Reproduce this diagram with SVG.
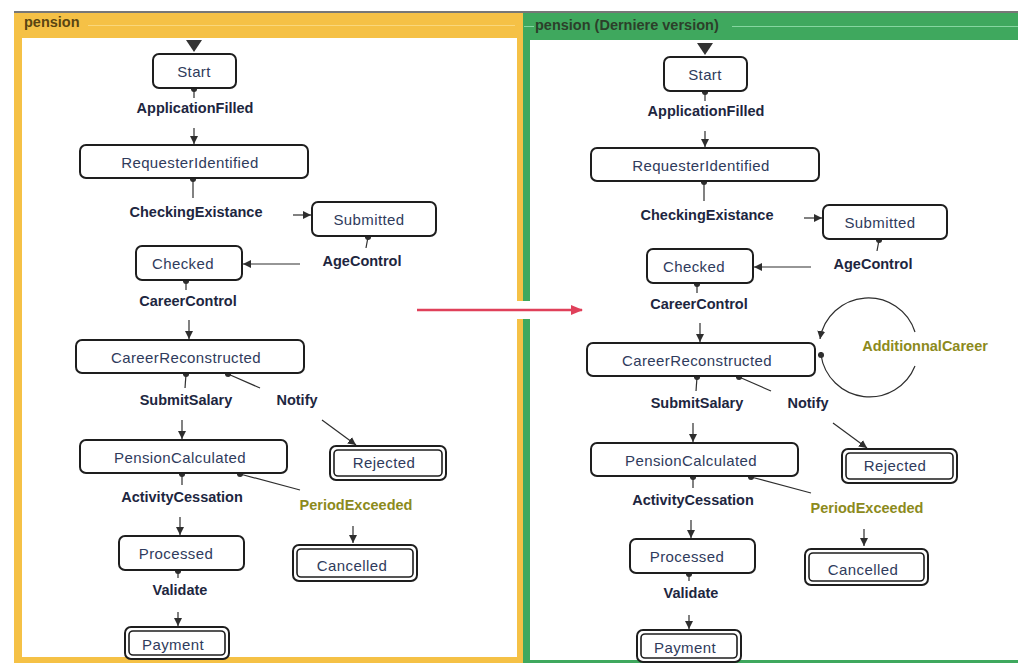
<svg xmlns="http://www.w3.org/2000/svg" width="1018" height="663" viewBox="0 0 1018 663">
  <style>
    .st { fill: #ffffff; stroke: #1e1e1e; stroke-width: 2; }
    .fin { fill: none; stroke: #1e1e1e; stroke-width: 1.6; }
    .nl { font-family: "Liberation Sans", Arial, sans-serif; font-size: 15px; letter-spacing: 0.4px; fill: #2f3b5c; text-anchor: middle; }
    .tl { font-family: "Liberation Sans", Arial, sans-serif; font-size: 14.5px; font-weight: bold; fill: #1d2640; text-anchor: middle; }
    .tlo { font-family: "Liberation Sans", Arial, sans-serif; font-size: 14.5px; font-weight: bold; fill: #8c8a1c; text-anchor: middle; }
    .hd { font-family: "Liberation Sans", Arial, sans-serif; font-size: 14.5px; font-weight: bold; }
    .e { fill: none; stroke: #2e2e2e; stroke-width: 1.2; }
    .ea { fill: none; stroke: #2e2e2e; stroke-width: 1.2; marker-end: url(#arr); }
    .ed { fill: none; stroke: #2e2e2e; stroke-width: 1.2; marker-start: url(#dot); }
  </style>
  <defs>
    <marker id="arr" viewBox="0 0 8 8" refX="8" refY="4" markerWidth="8" markerHeight="8" markerUnits="userSpaceOnUse" orient="auto">
      <path d="M0,0 L8,4 L0,8 z" fill="#2e2e2e"/>
    </marker>
    <marker id="dot" viewBox="0 0 8 8" refX="4" refY="4" markerWidth="7" markerHeight="7" markerUnits="userSpaceOnUse">
      <circle cx="4" cy="4" r="3.5" fill="#2e2e2e"/>
    </marker>
    <marker id="redarr" viewBox="0 0 12 10" refX="11" refY="5" markerWidth="12" markerHeight="10" markerUnits="userSpaceOnUse" orient="auto">
      <path d="M0,0 L12,5 L0,10 z" fill="#e0405a"/>
    </marker>
  </defs>

  <rect x="0" y="0" width="1018" height="663" fill="#ffffff"/>

  <!-- panel frames -->
  <g id="frame-left">
    <rect x="14" y="13" width="509" height="650" fill="#f5c146"/>
    <rect x="22" y="38" width="495" height="619" fill="#ffffff"/>
    <line x1="88" y1="25.5" x2="515" y2="25.5" stroke="#f9d77c" stroke-width="1"/>
    <text class="hd" x="24" y="27" fill="#5a4512">pension</text>
  </g>
  <g id="frame-right">
    <rect x="523" y="13" width="495" height="650" fill="#3fa85e"/>
    <rect x="530" y="40" width="488" height="620" fill="#ffffff"/>
    <line x1="524" y1="26.5" x2="534" y2="26.5" stroke="#86d6a0" stroke-width="1"/>
    <line x1="732" y1="26.5" x2="1018" y2="26.5" stroke="#86d6a0" stroke-width="1"/>
    <text class="hd" x="535" y="30" fill="#2c3f2a">pension (Derniere version)</text>
  </g>
  <line x1="14" y1="12" x2="1018" y2="12" stroke="#4a4a4a" stroke-width="1.5"/>

  <!-- connectors -->
  <g id="connectors">
    <!-- left panel -->
    <polygon points="186,40 202,40 194,52" fill="#333333"/>
    <path class="ed" d="M194,89 L194,98"/>
    <path class="ea" d="M194,128 L194,144"/>
    <path class="ed" d="M193,179 L193,198"/>
    <path class="ea" d="M293,215 L311,215"/>
    <path class="ed" d="M368,237 L366,248"/>
    <path class="ea" d="M300,264 L243,264"/>
    <path class="ed" d="M186,281 L186,290"/>
    <path class="ea" d="M189,320 L189,339"/>
    <path class="ed" d="M186,374 L185,388"/>
    <path class="ed" d="M228,374 L260,388"/>
    <path class="ea" d="M322,420 L356,445"/>
    <path class="ea" d="M182,420 L182,439"/>
    <path class="ed" d="M182,474 L182,485"/>
    <path class="ed" d="M240,474 L300,490"/>
    <path class="ea" d="M180,517 L180,535"/>
    <path class="ed" d="M178,571 L178,578"/>
    <path class="ea" d="M178,612 L178,626"/>
    <path class="ea" d="M353,526 L353,543"/>

    <!-- right panel -->
    <polygon points="697,43 713,43 705,55" fill="#333333"/>
    <path class="ed" d="M705,92 L705,101"/>
    <path class="ea" d="M705,131 L705,147"/>
    <path class="ed" d="M704,182 L704,201"/>
    <path class="ea" d="M804,218 L822,218"/>
    <path class="ed" d="M879,240 L877,251"/>
    <path class="ea" d="M811,267 L754,267"/>
    <path class="ed" d="M697,284 L697,293"/>
    <path class="ea" d="M700,323 L700,342"/>
    <path class="ed" d="M697,377 L696,391"/>
    <path class="ed" d="M739,377 L771,391"/>
    <path class="ea" d="M833,423 L867,448"/>
    <path class="ea" d="M693,423 L693,442"/>
    <path class="ed" d="M693,477 L693,488"/>
    <path class="ed" d="M751,477 L811,493"/>
    <path class="ea" d="M691,520 L691,538"/>
    <path class="ed" d="M689,574 L689,581"/>
    <path class="ea" d="M689,615 L689,629"/>
    <path class="ea" d="M864,529 L864,546"/>
    <!-- AdditionnalCareer self loop -->
    <path class="ed" d="M821,355 A49,49 0 0 0 915,366"/>
    <path class="ea" d="M915,332 A49,49 0 0 0 820,339"/>

    <!-- version arrow -->
    <rect x="509" y="301" width="26" height="18" fill="#ffffff"/>
    <line x1="417" y1="310" x2="582" y2="310" stroke="#e0405a" stroke-width="2.5" marker-end="url(#redarr)"/>
  </g>

  <!-- transition labels -->
  <g id="labels">
    <text class="tl" x="195" y="113">ApplicationFilled</text>
    <text class="tl" x="196" y="217">CheckingExistance</text>
    <text class="tl" x="362" y="266">AgeControl</text>
    <text class="tl" x="188" y="306">CareerControl</text>
    <text class="tl" x="186" y="405">SubmitSalary</text>
    <text class="tl" x="297" y="405">Notify</text>
    <text class="tl" x="182" y="502">ActivityCessation</text>
    <text class="tlo" x="356" y="510">PeriodExceeded</text>
    <text class="tl" x="180" y="595">Validate</text>

    <text class="tl" x="706" y="116">ApplicationFilled</text>
    <text class="tl" x="707" y="220">CheckingExistance</text>
    <text class="tl" x="873" y="269">AgeControl</text>
    <text class="tl" x="699" y="309">CareerControl</text>
    <text class="tl" x="697" y="408">SubmitSalary</text>
    <text class="tl" x="808" y="408">Notify</text>
    <text class="tl" x="693" y="505">ActivityCessation</text>
    <text class="tlo" x="867" y="513">PeriodExceeded</text>
    <text class="tl" x="691" y="598">Validate</text>
    <text class="tlo" x="925" y="351">AdditionnalCareer</text>
  </g>

  <!-- states, left panel -->
  <g id="l-start"><rect class="st" x="153" y="54" width="83" height="34" rx="6"/><text class="nl" x="194" y="77">Start</text></g>
  <g id="l-requester-identified"><rect class="st" x="80" y="145" width="228" height="33" rx="6"/><text class="nl" x="190" y="168">RequesterIdentified</text></g>
  <g id="l-submitted"><rect class="st" x="312" y="202" width="124" height="34" rx="6"/><text class="nl" x="369" y="225">Submitted</text></g>
  <g id="l-checked"><rect class="st" x="136" y="246" width="106" height="34" rx="6"/><text class="nl" x="183" y="269">Checked</text></g>
  <g id="l-career-reconstructed"><rect class="st" x="76" y="340" width="228" height="33" rx="6"/><text class="nl" x="186" y="363">CareerReconstructed</text></g>
  <g id="l-pension-calculated"><rect class="st" x="80" y="440" width="207" height="33" rx="6"/><text class="nl" x="180" y="463">PensionCalculated</text></g>
  <g id="l-processed"><rect class="st" x="119" y="536" width="125" height="34" rx="6"/><text class="nl" x="176" y="559">Processed</text></g>
  <g id="l-rejected"><rect class="st" x="330" y="446" width="116" height="34" rx="6"/><rect class="fin" x="334" y="450" width="108" height="26" rx="4"/><text class="nl" x="384" y="468">Rejected</text></g>
  <g id="l-cancelled"><rect class="st" x="293" y="545" width="124" height="36" rx="6"/><rect class="fin" x="297" y="549" width="116" height="28" rx="4"/><text class="nl" x="352" y="571">Cancelled</text></g>
  <g id="l-payment"><rect class="st" x="125" y="627" width="104" height="32" rx="6"/><rect class="fin" x="129" y="631" width="96" height="24" rx="4"/><text class="nl" x="173" y="650">Payment</text></g>

  <!-- states, right panel -->
  <g id="r-start"><rect class="st" x="664" y="57" width="83" height="34" rx="6"/><text class="nl" x="705" y="80">Start</text></g>
  <g id="r-requester-identified"><rect class="st" x="591" y="148" width="228" height="33" rx="6"/><text class="nl" x="701" y="171">RequesterIdentified</text></g>
  <g id="r-submitted"><rect class="st" x="823" y="205" width="124" height="34" rx="6"/><text class="nl" x="880" y="228">Submitted</text></g>
  <g id="r-checked"><rect class="st" x="647" y="249" width="106" height="34" rx="6"/><text class="nl" x="694" y="272">Checked</text></g>
  <g id="r-career-reconstructed"><rect class="st" x="587" y="343" width="228" height="33" rx="6"/><text class="nl" x="697" y="366">CareerReconstructed</text></g>
  <g id="r-pension-calculated"><rect class="st" x="591" y="443" width="207" height="33" rx="6"/><text class="nl" x="691" y="466">PensionCalculated</text></g>
  <g id="r-processed"><rect class="st" x="630" y="539" width="125" height="34" rx="6"/><text class="nl" x="687" y="562">Processed</text></g>
  <g id="r-rejected"><rect class="st" x="842" y="449" width="115" height="34" rx="6"/><rect class="fin" x="846" y="453" width="107" height="26" rx="4"/><text class="nl" x="895" y="471">Rejected</text></g>
  <g id="r-cancelled"><rect class="st" x="805" y="549" width="123" height="36" rx="6"/><rect class="fin" x="809" y="553" width="115" height="28" rx="4"/><text class="nl" x="863" y="575">Cancelled</text></g>
  <g id="r-payment"><rect class="st" x="637" y="630" width="104" height="32" rx="6"/><rect class="fin" x="641" y="634" width="96" height="24" rx="4"/><text class="nl" x="685" y="653">Payment</text></g>
</svg>
